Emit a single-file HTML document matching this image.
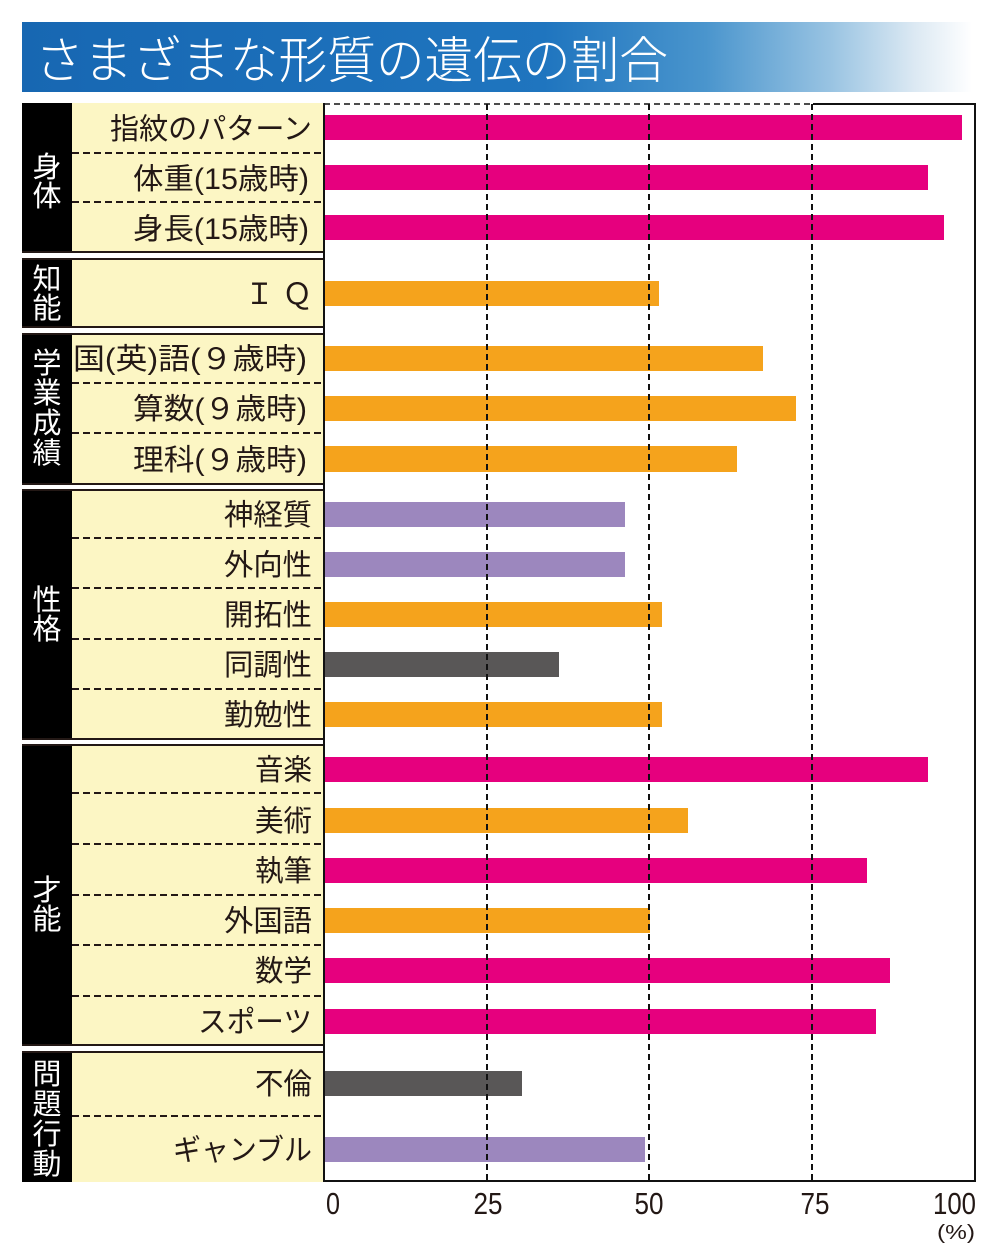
<!DOCTYPE html>
<html>
<head>
<meta charset="utf-8">
<style>
html,body{margin:0;padding:0;background:#fff;}
svg{display:block;}
text{font-family:"Liberation Sans","Noto Sans CJK JP",sans-serif;}
</style>
</head>
<body>
<svg width="1000" height="1247" viewBox="0 0 1000 1247" xmlns="http://www.w3.org/2000/svg">
<defs>
<linearGradient id="tg" x1="22" y1="0" x2="972" y2="0" gradientUnits="userSpaceOnUse">
<stop offset="0" stop-color="#1767b2"/>
<stop offset="0.55" stop-color="#1f75bf"/>
<stop offset="0.72" stop-color="#4a95cd"/>
<stop offset="0.85" stop-color="#98c3e2"/>
<stop offset="0.94" stop-color="#dce9f3"/>
<stop offset="1" stop-color="#ffffff"/>
</linearGradient>
</defs>
<rect width="1000" height="1247" fill="#fff"/>
<!-- title -->
<rect x="22" y="22" width="950" height="70" fill="url(#tg)"/>
<text x="35" y="78" font-size="50" font-weight="300" fill="#fff" textLength="633" lengthAdjust="spacingAndGlyphs">さまざまな形質の遺伝の割合</text>

<!-- groups: black column + yellow -->
<g fill="#000">
<rect x="22" y="103" width="50" height="150"/>
<rect x="22" y="259" width="50" height="69"/>
<rect x="22" y="334" width="50" height="151"/>
<rect x="22" y="490" width="50" height="250"/>
<rect x="22" y="745" width="50" height="301"/>
<rect x="22" y="1052" width="50" height="130"/>
</g>
<g fill="#fcf6c4">
<rect x="72" y="103" width="252" height="150"/>
<rect x="72" y="259" width="252" height="69"/>
<rect x="72" y="334" width="252" height="151"/>
<rect x="72" y="490" width="252" height="250"/>
<rect x="72" y="745" width="252" height="301"/>
<rect x="72" y="1052" width="252" height="130"/>
</g>
<!-- group boundary lines -->
<g stroke="#231815" stroke-width="2">
<line x1="22" y1="252" x2="324" y2="252"/>
<line x1="22" y1="259" x2="324" y2="259"/>
<line x1="22" y1="327" x2="324" y2="327"/>
<line x1="22" y1="334" x2="324" y2="334"/>
<line x1="22" y1="484" x2="324" y2="484"/>
<line x1="22" y1="490" x2="324" y2="490"/>
<line x1="22" y1="739" x2="324" y2="739"/>
<line x1="22" y1="745" x2="324" y2="745"/>
<line x1="22" y1="1045" x2="324" y2="1045"/>
<line x1="22" y1="1052" x2="324" y2="1052"/>
</g>
<!-- dashed row separators -->
<g stroke="#231815" stroke-width="2" stroke-dasharray="7 4">
<line x1="72" y1="153" x2="324" y2="153"/>
<line x1="72" y1="202" x2="324" y2="202"/>
<line x1="72" y1="383" x2="324" y2="383"/>
<line x1="72" y1="433" x2="324" y2="433"/>
<line x1="72" y1="538" x2="324" y2="538"/>
<line x1="72" y1="588" x2="324" y2="588"/>
<line x1="72" y1="639" x2="324" y2="639"/>
<line x1="72" y1="689" x2="324" y2="689"/>
<line x1="72" y1="793" x2="324" y2="793"/>
<line x1="72" y1="844" x2="324" y2="844"/>
<line x1="72" y1="895" x2="324" y2="895"/>
<line x1="72" y1="945" x2="324" y2="945"/>
<line x1="72" y1="996" x2="324" y2="996"/>
<line x1="72" y1="1116" x2="324" y2="1116"/>
</g>

<!-- group labels (vertical, white) -->
<g fill="#fff" font-size="29" text-anchor="middle">
<text x="47" y="177">身</text>
<text x="47" y="206">体</text>
<text x="47" y="289">知</text>
<text x="47" y="318">能</text>
<text x="47" y="373">学</text>
<text x="47" y="403">業</text>
<text x="47" y="433">成</text>
<text x="47" y="463">績</text>
<text x="47" y="610">性</text>
<text x="47" y="639">格</text>
<text x="47" y="900">才</text>
<text x="47" y="929">能</text>
<text x="47" y="1084">問</text>
<text x="47" y="1114">題</text>
<text x="47" y="1144">行</text>
<text x="47" y="1174">動</text>
</g>

<!-- row labels -->
<g fill="#231815" font-size="29.5" text-anchor="end">
<text x="312" y="139" textLength="202" lengthAdjust="spacingAndGlyphs">指紋のパターン</text>
<text x="309" y="189" textLength="176" lengthAdjust="spacingAndGlyphs">体重(15歳時)</text>
<text x="309" y="239" textLength="176" lengthAdjust="spacingAndGlyphs">身長(15歳時)</text>
<text x="312" y="304">Ｉ Ｑ</text>
<text x="307" y="369" textLength="234" lengthAdjust="spacingAndGlyphs">国(英)語(９歳時)</text>
<text x="307" y="419" textLength="174" lengthAdjust="spacingAndGlyphs">算数(９歳時)</text>
<text x="307" y="470" textLength="174" lengthAdjust="spacingAndGlyphs">理科(９歳時)</text>
<text x="312" y="525" textLength="88" lengthAdjust="spacingAndGlyphs">神経質</text>
<text x="312" y="575" textLength="88" lengthAdjust="spacingAndGlyphs">外向性</text>
<text x="312" y="625" textLength="88" lengthAdjust="spacingAndGlyphs">開拓性</text>
<text x="312" y="675" textLength="88" lengthAdjust="spacingAndGlyphs">同調性</text>
<text x="312" y="725" textLength="88" lengthAdjust="spacingAndGlyphs">勤勉性</text>
<text x="312" y="780" textLength="57" lengthAdjust="spacingAndGlyphs">音楽</text>
<text x="312" y="831" textLength="57" lengthAdjust="spacingAndGlyphs">美術</text>
<text x="312" y="881" textLength="57" lengthAdjust="spacingAndGlyphs">執筆</text>
<text x="312" y="931" textLength="88" lengthAdjust="spacingAndGlyphs">外国語</text>
<text x="312" y="981" textLength="57" lengthAdjust="spacingAndGlyphs">数学</text>
<text x="312" y="1032" textLength="114" lengthAdjust="spacingAndGlyphs">スポーツ</text>
<text x="312" y="1094" textLength="57" lengthAdjust="spacingAndGlyphs">不倫</text>
<text x="312" y="1160" textLength="139" lengthAdjust="spacingAndGlyphs">ギャンブル</text>
</g>

<!-- plot background -->
<rect x="325" y="104" width="650" height="1077" fill="#fff"/>

<!-- bars -->
<g>
<rect x="325" y="115" width="637" height="25" fill="#e6007e"/>
<rect x="325" y="165" width="603" height="25" fill="#e6007e"/>
<rect x="325" y="215" width="619" height="25" fill="#e6007e"/>
<rect x="325" y="281" width="334" height="25" fill="#f5a31c"/>
<rect x="325" y="346" width="438" height="25" fill="#f5a31c"/>
<rect x="325" y="396" width="471" height="25" fill="#f5a31c"/>
<rect x="325" y="446" width="412" height="26" fill="#f5a31c"/>
<rect x="325" y="502" width="300" height="25" fill="#9c87be"/>
<rect x="325" y="552" width="300" height="25" fill="#9c87be"/>
<rect x="325" y="602" width="337" height="25" fill="#f5a31c"/>
<rect x="325" y="652" width="234" height="25" fill="#595757"/>
<rect x="325" y="702" width="337" height="25" fill="#f5a31c"/>
<rect x="325" y="757" width="603" height="25" fill="#e6007e"/>
<rect x="325" y="808" width="363" height="25" fill="#f5a31c"/>
<rect x="325" y="858" width="542" height="25" fill="#e6007e"/>
<rect x="325" y="908" width="325" height="25" fill="#f5a31c"/>
<rect x="325" y="958" width="565" height="25" fill="#e6007e"/>
<rect x="325" y="1009" width="551" height="25" fill="#e6007e"/>
<rect x="325" y="1071" width="197" height="25" fill="#595757"/>
<rect x="325" y="1137" width="320" height="25" fill="#9c87be"/>
</g>

<!-- gridlines -->
<g stroke="#111" stroke-width="2" stroke-dasharray="6 4">
<line x1="487" y1="104" x2="487" y2="1181"/>
<line x1="649" y1="104" x2="649" y2="1181"/>
<line x1="812" y1="104" x2="812" y2="1181"/>
<line x1="324" y1="104" x2="813" y2="104" stroke-width="1.5"/>
</g>
<!-- plot frame -->
<g stroke="#111" stroke-width="2" fill="none">
<line x1="813" y1="104" x2="976" y2="104"/>
<line x1="324" y1="103" x2="324" y2="1182"/>
<line x1="975" y1="103" x2="975" y2="1182"/>
<line x1="323" y1="1181" x2="976" y2="1181"/>
</g>

<!-- axis labels -->
<g fill="#231815" font-size="31" text-anchor="middle">
<text x="333" y="1214" textLength="14" lengthAdjust="spacingAndGlyphs">0</text>
<text x="488" y="1214" textLength="29" lengthAdjust="spacingAndGlyphs">25</text>
<text x="649" y="1214" textLength="29" lengthAdjust="spacingAndGlyphs">50</text>
<text x="815" y="1214" textLength="29" lengthAdjust="spacingAndGlyphs">75</text>
<text x="954.5" y="1214" textLength="43" lengthAdjust="spacingAndGlyphs">100</text>
<text x="956" y="1239" font-size="20" textLength="38" lengthAdjust="spacingAndGlyphs">(%)</text>
</g>
</svg>
</body>
</html>
